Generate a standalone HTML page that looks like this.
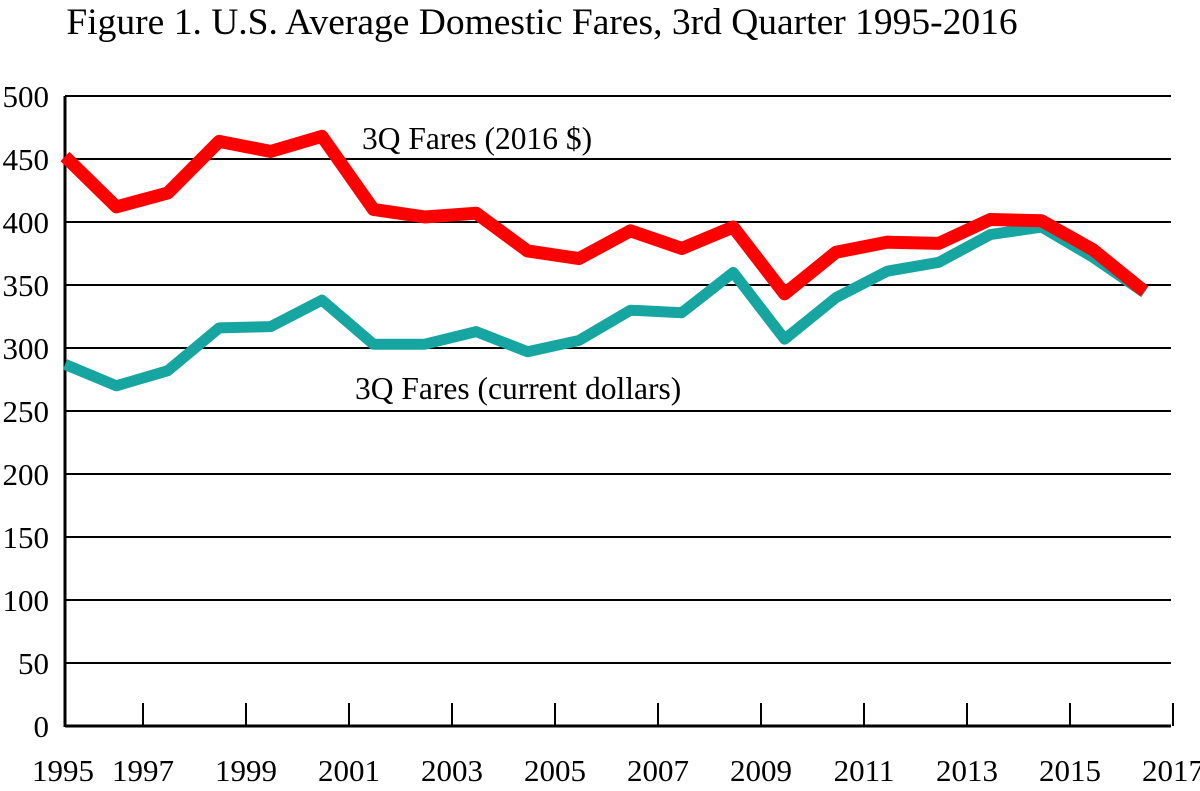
<!DOCTYPE html>
<html><head><meta charset="utf-8"><style>
body{margin:0;background:#fff;}
svg text{font-family:"Liberation Serif",serif;fill:#000;}
</style></head><body>
<svg id="chart" width="1200" height="786" xmlns="http://www.w3.org/2000/svg">
<text x="542" y="34" font-size="37.5" text-anchor="middle">Figure 1. U.S. Average Domestic Fares, 3rd Quarter 1995-2016</text>
<g id="grid"></g><g id="ylab"></g><g id="xlab"></g><g id="lines"></g>
<text x="362" y="149" font-size="31.5">3Q Fares (2016 $)</text>
<text x="355" y="399" font-size="31.5">3Q Fares (current dollars)</text>
</svg>
<script>
const years=[1995,1996,1997,1998,1999,2000,2001,2002,2003,2004,2005,2006,2007,2008,2009,2010,2011,2012,2013,2014,2015,2016];
const realFares=[452,412,423,464,456,468,410,404,407,377,371,393,379,396,343,376,384,383,402,401,378,345];
const currentFares=[287,270,282,316,317,338,303,303,313,297,306,330,328,360,307,340,361,368,390,396,372,344];
const yTicks=[0,50,100,150,200,250,300,350,400,450,500];
const xTickLabels=[1995,1997,1999,2001,2003,2005,2007,2009,2011,2013,2015,2017];
const NS="http://www.w3.org/2000/svg";
const y=v=>726-v*1.26;
const x=i=>65+i*51.4;
const xt=yr=>143+(yr-1997)*51.5;
function mk(tag,attrs,parent){const e=document.createElementNS(NS,tag);for(const k in attrs)e.setAttribute(k,attrs[k]);parent.appendChild(e);return e;}
const grid=document.getElementById('grid'),yl=document.getElementById('ylab'),xl=document.getElementById('xlab'),ln=document.getElementById('lines');
yTicks.forEach(v=>{
 const l=mk('line',{x1:65,x2:1171,y1:y(v),y2:y(v),stroke:'#000','stroke-width':v===0?3:2},grid);
 
 
 const t=mk('text',{x:49,y:y(v)+11,'font-size':31,'text-anchor':'end'},yl);t.textContent=v;
 
 
});
const ax=mk('line',{x1:65,x2:65,y1:96,y2:727,stroke:'#000','stroke-width':3},grid);


xTickLabels.forEach((yr,k)=>{
 const cx=k===0?63:xt(yr);
 if(k>0){const tk=mk('line',{x1:cx,x2:cx,y1:703,y2:726,stroke:'#000','stroke-width':2},grid);
  
  }
 const t=mk('text',{x:cx,y:781,'font-size':31,'text-anchor':'middle'},xl);t.textContent=yr;
 
 
});
function series(arr,color,w,name){
 const p=mk('polyline',{points:arr.map((v,i)=>x(i)+','+y(v)).join(' '),fill:'none',stroke:color,'stroke-width':w,'stroke-linejoin':'round'},ln);
 
 
}
series(currentFares,'#16a5a1',11,'current-fares-line');
series(realFares,'#ff0000',13,'real-fares-line');
</script>
</body></html>
